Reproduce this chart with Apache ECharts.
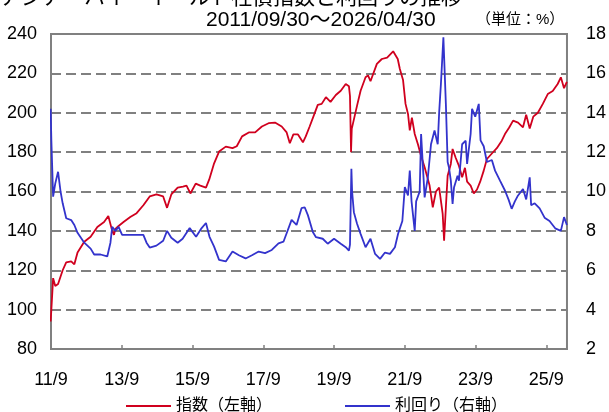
<!DOCTYPE html>
<html>
<head>
<meta charset="utf-8">
<script src="https://cdn.jsdelivr.net/npm/echarts@6/dist/echarts.min.js"></script>
<style>
  html, body { margin: 0; padding: 0; background: #fff; }
  #main { width: 609px; height: 412px; }
</style>
</head>
<body>
<div id="main"></div>
<script>
// 日付は小数の年 (2011.75 = 2011/09/30)
var START = 2011.75;
var END = 2026.333;
var xTickLabels = ['11/9', '13/9', '15/9', '17/9', '19/9', '21/9', '23/9', '25/9'];

// 指数(左軸)
var indexDates = [2011.74, 2011.76, 2011.81, 2011.87, 2011.95, 2012.08, 2012.18, 2012.32, 2012.41, 2012.50,
    2012.69, 2012.87, 2013.06, 2013.25, 2013.37, 2013.48, 2013.53, 2013.57, 2013.66, 2013.80,
    2013.99, 2014.17, 2014.36, 2014.54, 2014.73, 2014.92, 2015.03, 2015.15, 2015.33, 2015.48,
    2015.58, 2015.69, 2015.84, 2015.97, 2016.13, 2016.22, 2016.36, 2016.50, 2016.69, 2016.88,
    2017.00, 2017.15, 2017.34, 2017.52, 2017.71, 2017.90, 2018.08, 2018.27, 2018.41, 2018.50,
    2018.60, 2018.73, 2018.87, 2018.95, 2019.06, 2019.20, 2019.29, 2019.40, 2019.52, 2019.65,
    2019.80, 2019.94, 2020.08, 2020.17, 2020.20, 2020.23, 2020.25, 2020.29, 2020.40, 2020.50,
    2020.64, 2020.71, 2020.78, 2020.96, 2021.10, 2021.25, 2021.42, 2021.55, 2021.61, 2021.70,
    2021.77, 2021.84, 2021.89, 2021.95, 2022.03, 2022.12, 2022.21, 2022.31, 2022.45, 2022.54,
    2022.63, 2022.72, 2022.82, 2022.86, 2022.91, 2022.96, 2023.05, 2023.10, 2023.19, 2023.28,
    2023.37, 2023.45, 2023.51, 2023.61, 2023.70, 2023.79, 2023.88, 2023.98, 2024.07, 2024.21,
    2024.35, 2024.49, 2024.58, 2024.70, 2024.81, 2024.95, 2025.09, 2025.18, 2025.28, 2025.38,
    2025.51, 2025.65, 2025.79, 2025.93, 2026.07, 2026.16, 2026.25, 2026.33];
var indexValues = [94, 100, 116, 112, 113, 120, 124, 124.5, 123, 129,
    134.5, 137, 142, 144.5, 147.6, 140, 138, 141, 142.5, 144.5,
    147, 149, 153, 157.5, 158.5, 157.5, 151.7, 158.5, 162, 162.5,
    163, 159, 164, 163, 162, 166, 174.3, 180.3, 182.8, 182,
    183, 188, 190, 190, 193, 194.7, 195, 193, 190, 184.5,
    189, 189, 185, 188, 193, 199.7, 204, 204.5, 207.9, 205.5,
    209, 211.2, 214.6, 213.5, 208.5, 180, 191.8, 195, 203.6, 211.2,
    218, 219, 216, 224.8, 227.3, 228, 231.2, 227.3, 222.2, 216.6,
    204.5, 199.4, 191, 197.5, 189.2, 184, 178, 172.3, 163, 152,
    160, 162, 148.6, 135, 152, 168, 174, 181.6, 177, 173,
    167.2, 172, 165, 163, 159, 161, 165, 170.6, 176.5, 179.3,
    182, 185.8, 189.2, 192.5, 196, 195, 192.6, 199, 192, 198,
    200, 204.5, 209.5, 211, 214.6, 218, 212.5, 215.7];

// 利回り(右軸, %)
var yieldDates = [2011.74, 2011.76, 2011.81, 2011.87, 2011.95, 2012.02, 2012.08, 2012.18, 2012.32, 2012.41,
    2012.50, 2012.69, 2012.87, 2012.97, 2013.06, 2013.15, 2013.34, 2013.43, 2013.48, 2013.57,
    2013.66, 2013.76, 2013.99, 2014.17, 2014.36, 2014.45, 2014.54, 2014.73, 2014.92, 2015.03,
    2015.15, 2015.33, 2015.47, 2015.67, 2015.85, 2015.99, 2016.13, 2016.23, 2016.36, 2016.50,
    2016.69, 2016.88, 2017.06, 2017.25, 2017.43, 2017.62, 2017.80, 2017.99, 2018.18, 2018.32,
    2018.41, 2018.55, 2018.69, 2018.83, 2018.92, 2019.01, 2019.15, 2019.24, 2019.43, 2019.57,
    2019.75, 2019.94, 2020.08, 2020.17, 2020.20, 2020.24, 2020.26, 2020.31, 2020.40, 2020.50,
    2020.64, 2020.78, 2020.91, 2021.05, 2021.19, 2021.33, 2021.47, 2021.56, 2021.68, 2021.75,
    2021.84, 2021.89, 2021.94, 2022.03, 2022.07, 2022.17, 2022.21, 2022.26, 2022.31, 2022.40,
    2022.49, 2022.59, 2022.68, 2022.72, 2022.77, 2022.84, 2022.91, 2022.96, 2023.00, 2023.05,
    2023.10, 2023.14, 2023.24, 2023.28, 2023.37, 2023.47, 2023.51, 2023.61, 2023.65, 2023.74,
    2023.84, 2023.89, 2023.98, 2024.07, 2024.21, 2024.30, 2024.44, 2024.58, 2024.68, 2024.77,
    2024.86, 2024.95, 2025.09, 2025.18, 2025.28, 2025.32, 2025.42, 2025.56, 2025.70, 2025.84,
    2026.00, 2026.16, 2026.25, 2026.33];
var yieldValues = [14.2, 12.6, 9.74, 10.4, 11.0, 10.0, 9.4, 8.64, 8.55, 8.3,
    7.9, 7.4, 7.1, 6.8, 6.8, 6.8, 6.7, 7.4, 8.2, 8.0,
    8.2, 7.8, 7.8, 7.8, 7.8, 7.4, 7.15, 7.25, 7.5, 8.0,
    7.65, 7.4, 7.6, 8.14, 7.7, 8.1, 8.4, 7.7, 7.2, 6.53,
    6.45, 6.95, 6.76, 6.6, 6.76, 6.95, 6.87, 7.03, 7.37, 7.45,
    7.88, 8.56, 8.3, 9.15, 9.2, 8.8, 7.94, 7.68, 7.6, 7.35,
    7.6, 7.35, 7.17, 7.0, 7.3, 11.15, 10.0, 8.95, 8.36, 7.85,
    7.17, 7.6, 6.83, 6.58, 6.9, 6.83, 7.17, 7.85, 8.5, 10.22,
    9.8, 11.06, 9.5, 8.0, 9.5, 10.0, 12.92, 11.3, 9.7, 10.7,
    12.4, 13.1, 12.4, 14.0, 15.46, 17.83, 14.45, 11.5, 11.2, 10.55,
    9.37, 10.2, 10.8, 10.55, 12.4, 12.58, 11.4, 12.92, 14.2, 13.8,
    14.45, 12.6, 12.3, 11.5, 11.6, 11.06, 10.55, 10.05, 9.6, 9.12,
    9.5, 9.8, 10.13, 9.6, 10.72, 9.3, 9.4, 9.14, 8.67, 8.5,
    8.13, 8.0, 8.7, 8.3];

function toPoints(dates, values) {
    var pts = [];
    for (var i = 0; i < dates.length; i++) {
        pts.push([dates[i] - START, values[i]]);
    }
    return pts;
}

var FONT = "'Liberation Sans', 'Noto Sans CJK JP', sans-serif";
var chart = echarts.init(document.getElementById('main'));
var option = {
    animation: false,
    textStyle: { fontFamily: FONT },
    graphic: [
        { type: 'text', left: 0, top: -12, style: { text: 'アジア・ハイ・イールド社債指数と利回りの推移', fontSize: 21, fill: '#000', fontFamily: FONT } },
        { type: 'text', left: 206, top: 10, style: { text: '2011/09/30～2026/04/30', fontSize: 21, fill: '#000', fontFamily: FONT } },
        { type: 'text', left: 476, top: 12, style: { text: '（単位：%）', fontSize: 15, fill: '#000', fontFamily: FONT } }
    ],
    legend: {
        left: 121,
        top: 393,
        itemWidth: 45,
        itemHeight: 2,
        itemGap: 73,
        icon: 'rect',
        textStyle: { fontSize: 16, color: '#000', fontFamily: FONT },
        data: ['指数（左軸）', '利回り（右軸）']
    },
    grid: {
        left: 51, top: 34, width: 523, height: 315,
        show: true, borderColor: '#808080', borderWidth: 2, backgroundColor: '#fff'
    },
    xAxis: {
        type: 'value',
        min: 0,
        max: END - START,
        interval: 2,
        axisLine: { show: false },
        axisTick: { show: true, inside: true, length: 4, lineStyle: { color: '#808080', width: 1.5 } },
        splitLine: { show: false },
        axisLabel: {
            margin: 22, fontSize: 18, color: '#000', showMaxLabel: false,
            formatter: function (v) { return xTickLabels[Math.round(v / 2)] || ''; }
        }
    },
    yAxis: [{
        type: 'value',
        min: 80, max: 240, interval: 20,
        axisLine: { show: false },
        axisTick: { show: false },
        axisLabel: { margin: 14, fontSize: 18, color: '#000' },
        splitLine: { show: true, lineStyle: { color: '#808080', width: 2, type: [10, 5] } }
    }, {
        type: 'value',
        min: 2, max: 18, interval: 2,
        axisLine: { show: false },
        axisTick: { show: false },
        axisLabel: { margin: 19, fontSize: 18, color: '#000' },
        splitLine: { show: false }
    }],
    series: [{
        name: '指数（左軸）',
        type: 'line',
        yAxisIndex: 0,
        showSymbol: false,
        data: toPoints(indexDates, indexValues),
        lineStyle: { color: '#d0001e', width: 1.8 },
        itemStyle: { color: '#d0001e' }
    }, {
        name: '利回り（右軸）',
        type: 'line',
        yAxisIndex: 1,
        showSymbol: false,
        data: toPoints(yieldDates, yieldValues),
        lineStyle: { color: '#3333cc', width: 1.8 },
        itemStyle: { color: '#3333cc' }
    }]
};
chart.setOption(option);
</script>
</body>
</html>
